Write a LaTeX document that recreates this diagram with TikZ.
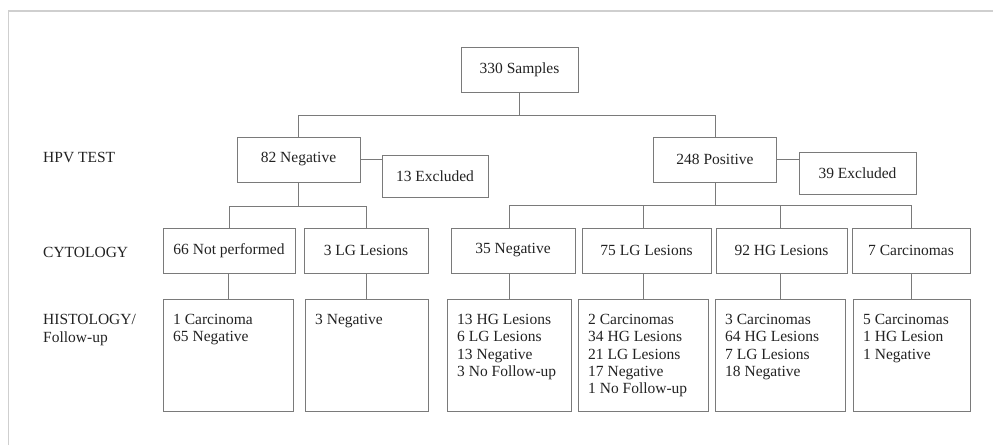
\documentclass[tikz,border=0pt]{standalone}
\usepackage{fontspec}
\setmainfont{Liberation Serif}
\usetikzlibrary{calc}

\definecolor{linegray}{HTML}{7A7A7A}
\definecolor{framegray}{HTML}{CFCFCF}
\definecolor{textgray}{HTML}{222222}

\tikzset{
  box/.style={draw=linegray, line width=1pt, inner sep=0pt, minimum height=45pt},
  histbox/.style={draw=linegray, line width=1pt, inner sep=0pt, minimum height=112pt},
  list/.style={align=left, anchor=north west, inner sep=0pt},
  rowlabel/.style={anchor=west, inner sep=0pt},
  conn/.style={draw=linegray, line width=1pt}
}

\begin{document}
\begin{tikzpicture}[x=1pt,y=-1pt,
  every node/.style={font=\fontsize{15.5}{17.3}\selectfont, text=textgray}]

\useasboundingbox (0,0) rectangle (993,445);

% frame
\draw[framegray, line width=1.5pt] (8.5,445) -- (8.5,11) -- (993,11);

% top level
\node[box, minimum width=117pt] (samples) at (519.5,69.5) {330 Samples};

% HPV test
\node[rowlabel] (hpvlbl) at (43,157) {HPV TEST};
\node[box, minimum width=123pt] (neg) at (298.5,159.5) {82 Negative};
\node[box, minimum width=106pt, minimum height=42pt] (exneg) at (435,176) {13 Excluded};
\node[box, minimum width=123pt] (pos) at (715,159.5) {248 Positive};
\node[box, minimum width=117pt, minimum height=42pt] (expos) at (857.5,173) {39 Excluded};

% cytology
\node[rowlabel] (cytlbl) at (43,252) {CYTOLOGY};
\node[box, minimum width=132pt] (cnp) at (229,250.5) {66 Not performed};
\node[box, minimum width=124pt] (clgl) at (366,250.5) {3 LG Lesions};
\node[box, minimum width=124pt] (cneg) at (513,250.5) {35 Negative};
\node[box, minimum width=129pt] (clg) at (646.5,250.5) {75 LG Lesions};
\node[box, minimum width=131pt] (chg) at (781.5,250.5) {92 HG Lesions};
\node[box, minimum width=118pt] (ccarc) at (911,250.5) {7 Carcinomas};

% histology / follow-up
\node[list] (histlbl) at (43,314.5) {HISTOLOGY/\\Follow-up};
\node[histbox, minimum width=130pt] (hnp) at (228,355) {};
\node[histbox, minimum width=123pt] (hlgl) at (366.5,355) {};
\node[histbox, minimum width=124pt] (hneg) at (509,355) {};
\node[histbox, minimum width=130pt] (hlg) at (643,355) {};
\node[histbox, minimum width=130pt] (hhg) at (780,355) {};
\node[histbox, minimum width=117pt] (hcarc) at (911.5,355) {};

\node[list] (tnp) at ([shift={(10.5,15.5)}]hnp.north west) {1 Carcinoma\\65 Negative};
\node[list] (tlgl) at ([shift={(10.5,15.5)}]hlgl.north west) {3 Negative};
\node[list] (tneg) at ([shift={(10.5,15.5)}]hneg.north west) {13 HG Lesions\\6 LG Lesions\\13 Negative\\3 No Follow-up};
\node[list] (tlg) at ([shift={(10.5,15.5)}]hlg.north west) {2 Carcinomas\\34 HG Lesions\\21 LG Lesions\\17 Negative\\1 No Follow-up};
\node[list] (thg) at ([shift={(10.5,15.5)}]hhg.north west) {3 Carcinomas\\64 HG Lesions\\7 LG Lesions\\18 Negative};
\node[list] (tcarc) at ([shift={(10.5,15.5)}]hcarc.north west) {5 Carcinomas\\1 HG Lesion\\1 Negative};

% connectors
\coordinate (topbus) at (0,115);
\coordinate (leftbus) at (0,206);
\coordinate (rightbus) at (0,205);

\draw[conn] (samples.south) -- (samples.south |- topbus);
\draw[conn] (neg.north) |- (topbus -| pos.north) -- (pos.north);

\draw[conn] (neg.east) -- (neg.east -| exneg.west);
\draw[conn] (pos.east) -- (pos.east -| expos.west);

\draw[conn] (neg.south) -- (neg.south |- leftbus);
\draw[conn] (cnp.north) |- (leftbus -| clgl.north) -- (clgl.north);

\draw[conn] (pos.south) -- (pos.south |- rightbus);
\draw[conn] (cneg.north -| hneg.north) |- (rightbus -| hcarc.north) -- (ccarc.north -| hcarc.north);
\draw[conn] (clg.north -| hlg.north) -- (rightbus -| hlg.north);
\draw[conn] (chg.north -| hhg.north) -- (rightbus -| hhg.north);

\draw[conn] (cnp.south -| hnp.north) -- (hnp.north);
\draw[conn] (clgl.south -| hlgl.north) -- (hlgl.north);
\draw[conn] (cneg.south -| hneg.north) -- (hneg.north);
\draw[conn] (clg.south -| hlg.north) -- (hlg.north);
\draw[conn] (chg.south -| hhg.north) -- (hhg.north);
\draw[conn] (ccarc.south -| hcarc.north) -- (hcarc.north);

\end{tikzpicture}
\end{document}
